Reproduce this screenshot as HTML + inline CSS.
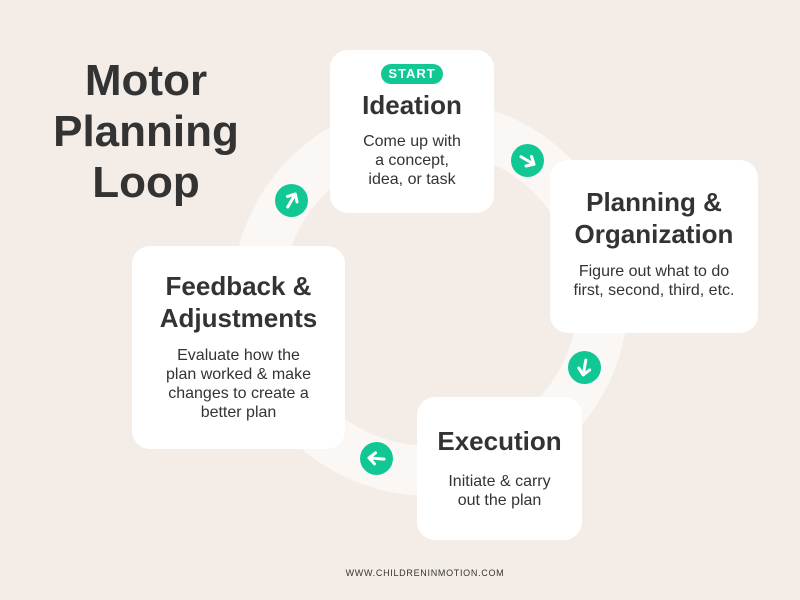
<!DOCTYPE html>
<html><head><meta charset="utf-8"><style>
*{margin:0;padding:0;box-sizing:border-box}
body{width:800px;height:600px;background:#f4ede7;position:relative;overflow:hidden;font-family:"Liberation Sans",sans-serif;color:#333}
.ring{position:absolute;left:232px;top:100px;width:396px;height:396px;border-radius:50%;border:50px solid #faf7f4}
.card{position:absolute;background:#fff;border-radius:18px;text-align:center}
.card h2{font-size:26px;font-weight:bold;line-height:32px;color:#333}
.card p{font-size:16px;line-height:19px;color:#333;white-space:nowrap}
.t{position:absolute;left:30px;width:232px;text-align:center;font-size:44px;font-weight:bold;line-height:51px;color:#333;top:55px}
.a{position:absolute;width:33px;height:33px;border-radius:50%;background:#11c894}
.a svg{position:absolute;left:0;top:0}
.start{display:inline-block;background:#11c894;color:#fff;font-weight:bold;font-size:13px;letter-spacing:1px;padding:2px 7px;border-radius:10px;line-height:16px}
.foot{position:absolute;top:568px;left:25px;width:800px;text-align:center;font-size:9px;letter-spacing:0.7px;color:#333}
</style></head><body>
<div class="ring"></div>
<div class="t">Motor<br>Planning<br>Loop</div>
<div class="card" style="left:330px;top:50px;width:164px;height:163px;padding-top:14px">
<span class="start">START</span>
<h2 style="margin-top:5px">Ideation</h2>
<p style="margin-top:11px">Come up with<br>a concept,<br>idea, or task</p></div>
<div class="card" style="left:550px;top:160px;width:208px;height:173px;padding-top:26px">
<h2>Planning &amp;<br>Organization</h2>
<p style="margin-top:12px">Figure out what to do<br>first, second, third, etc.</p></div>
<div class="card" style="left:132px;top:246px;width:213px;height:203px;padding-top:24px">
<h2>Feedback &amp;<br>Adjustments</h2>
<p style="margin-top:12px">Evaluate how the<br>plan worked &amp; make<br>changes to create a<br>better plan</p></div>
<div class="card" style="left:417px;top:397px;width:165px;height:143px;padding-top:28px">
<h2>Execution</h2>
<p style="margin-top:15px">Initiate &amp; carry<br>out the plan</p></div>
<div class="a" style="left:275px;top:184px"><svg width="33" height="33"><g transform="rotate(-60 16.5 16.5)" stroke="#fff" stroke-width="3" fill="none" stroke-linecap="round" stroke-linejoin="round"><path d="M9 16.5H24M18 11l6 5.5-6 5.5"/></g></svg></div>
<div class="a" style="left:511px;top:144px"><svg width="33" height="33"><g transform="rotate(30 16.5 16.5)" stroke="#fff" stroke-width="3" fill="none" stroke-linecap="round" stroke-linejoin="round"><path d="M9 16.5H24M18 11l6 5.5-6 5.5"/></g></svg></div>
<div class="a" style="left:568px;top:351px"><svg width="33" height="33"><g transform="rotate(100 16.5 16.5)" stroke="#fff" stroke-width="3" fill="none" stroke-linecap="round" stroke-linejoin="round"><path d="M9 16.5H24M18 11l6 5.5-6 5.5"/></g></svg></div>
<div class="a" style="left:360px;top:442px"><svg width="33" height="33"><g transform="rotate(185 16.5 16.5)" stroke="#fff" stroke-width="3" fill="none" stroke-linecap="round" stroke-linejoin="round"><path d="M9 16.5H24M18 11l6 5.5-6 5.5"/></g></svg></div>
<div class="foot">WWW.CHILDRENINMOTION.COM</div>
</body></html>
